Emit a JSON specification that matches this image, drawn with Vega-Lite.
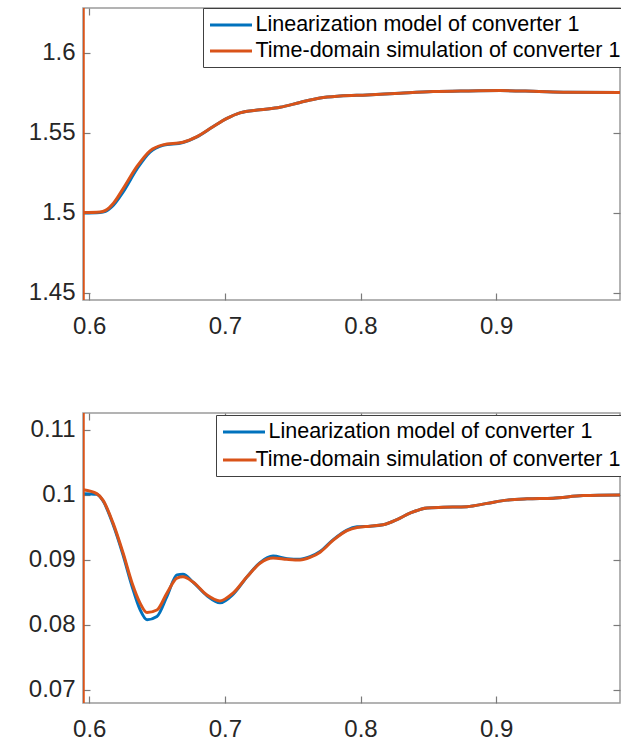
{
  "$schema": "https://vega.github.io/schema/vega-lite/v6.json",
  "padding": {"left": 27, "top": 6, "right": 0, "bottom": 0},
  "background": "white",
  "spacing": 72,
  "resolve": {"scale": {"color": "independent"}, "legend": {"color": "independent"}},
  "config": {
    "font": "Liberation Sans",
    "view": {"stroke": "#9a9a9a", "strokeWidth": 1.5},
    "axis": {"labelFont": "Liberation Sans", "labelFontSize": 24, "labelColor": "#262626", "grid": false, "title": null, "domain": false, "tickColor": "#7a7a7a", "tickWidth": 1.2, "tickSize": -7, "labelPadding": 12},
    "legend": {"labelLimit": 0}
  },
  "vconcat": [
    {
      "width": 537,
      "height": 292,
      "layer": [
        {
          "data": {"values": [
            {"series": "Linearization model of converter 1", "t": 0.5954, "v": 1.5000},
            {"series": "Linearization model of converter 1", "t": 0.6079, "v": 1.5003},
            {"series": "Linearization model of converter 1", "t": 0.6120, "v": 1.5010},
            {"series": "Linearization model of converter 1", "t": 0.6180, "v": 1.5050},
            {"series": "Linearization model of converter 1", "t": 0.6249, "v": 1.5130},
            {"series": "Linearization model of converter 1", "t": 0.6352, "v": 1.5275},
            {"series": "Linearization model of converter 1", "t": 0.6448, "v": 1.5380},
            {"series": "Linearization model of converter 1", "t": 0.6543, "v": 1.5422},
            {"series": "Linearization model of converter 1", "t": 0.6691, "v": 1.5440},
            {"series": "Linearization model of converter 1", "t": 0.6794, "v": 1.5475},
            {"series": "Linearization model of converter 1", "t": 0.6912, "v": 1.5538},
            {"series": "Linearization model of converter 1", "t": 0.7015, "v": 1.5590},
            {"series": "Linearization model of converter 1", "t": 0.7111, "v": 1.5625},
            {"series": "Linearization model of converter 1", "t": 0.7259, "v": 1.5644},
            {"series": "Linearization model of converter 1", "t": 0.7406, "v": 1.5660},
            {"series": "Linearization model of converter 1", "t": 0.7554, "v": 1.5690},
            {"series": "Linearization model of converter 1", "t": 0.7702, "v": 1.5718},
            {"series": "Linearization model of converter 1", "t": 0.7849, "v": 1.5730},
            {"series": "Linearization model of converter 1", "t": 0.8048, "v": 1.5737},
            {"series": "Linearization model of converter 1", "t": 0.8291, "v": 1.5748},
            {"series": "Linearization model of converter 1", "t": 0.8535, "v": 1.5758},
            {"series": "Linearization model of converter 1", "t": 0.8785, "v": 1.5762},
            {"series": "Linearization model of converter 1", "t": 0.9029, "v": 1.5764},
            {"series": "Linearization model of converter 1", "t": 0.9272, "v": 1.5760},
            {"series": "Linearization model of converter 1", "t": 0.9523, "v": 1.5754},
            {"series": "Linearization model of converter 1", "t": 0.9913, "v": 1.5752},
            {"series": "Time-domain simulation of converter 1", "t": 0.5954, "v": 1.5002},
            {"series": "Time-domain simulation of converter 1", "t": 0.6079, "v": 1.5006},
            {"series": "Time-domain simulation of converter 1", "t": 0.6120, "v": 1.5016},
            {"series": "Time-domain simulation of converter 1", "t": 0.6180, "v": 1.5062},
            {"series": "Time-domain simulation of converter 1", "t": 0.6249, "v": 1.5150},
            {"series": "Time-domain simulation of converter 1", "t": 0.6352, "v": 1.5290},
            {"series": "Time-domain simulation of converter 1", "t": 0.6448, "v": 1.5388},
            {"series": "Time-domain simulation of converter 1", "t": 0.6543, "v": 1.5425},
            {"series": "Time-domain simulation of converter 1", "t": 0.6691, "v": 1.5441},
            {"series": "Time-domain simulation of converter 1", "t": 0.6794, "v": 1.5476},
            {"series": "Time-domain simulation of converter 1", "t": 0.6912, "v": 1.5538},
            {"series": "Time-domain simulation of converter 1", "t": 0.7015, "v": 1.5590},
            {"series": "Time-domain simulation of converter 1", "t": 0.7111, "v": 1.5625},
            {"series": "Time-domain simulation of converter 1", "t": 0.7259, "v": 1.5644},
            {"series": "Time-domain simulation of converter 1", "t": 0.7406, "v": 1.5660},
            {"series": "Time-domain simulation of converter 1", "t": 0.7554, "v": 1.5690},
            {"series": "Time-domain simulation of converter 1", "t": 0.7702, "v": 1.5718},
            {"series": "Time-domain simulation of converter 1", "t": 0.7849, "v": 1.5730},
            {"series": "Time-domain simulation of converter 1", "t": 0.8048, "v": 1.5737},
            {"series": "Time-domain simulation of converter 1", "t": 0.8291, "v": 1.5748},
            {"series": "Time-domain simulation of converter 1", "t": 0.8535, "v": 1.5758},
            {"series": "Time-domain simulation of converter 1", "t": 0.8785, "v": 1.5762},
            {"series": "Time-domain simulation of converter 1", "t": 0.9029, "v": 1.5764},
            {"series": "Time-domain simulation of converter 1", "t": 0.9272, "v": 1.5760},
            {"series": "Time-domain simulation of converter 1", "t": 0.9523, "v": 1.5754},
            {"series": "Time-domain simulation of converter 1", "t": 0.9913, "v": 1.5752}
          ]},
          "mark": {"type": "line", "interpolate": "monotone", "strokeWidth": 3, "clip": true},
          "encoding": {
            "x": {"field": "t", "type": "quantitative", "scale": {"domain": [0.5954, 0.9913], "nice": false, "zero": false}, "axis": {"orient": "bottom", "values": [0.6, 0.7, 0.8, 0.9], "format": ".1f", "labelPadding": 21}},
            "y": {"field": "v", "type": "quantitative", "scale": {"domain": [1.4456, 1.628], "nice": false, "zero": false}, "axis": {"orient": "left", "values": [1.45, 1.5, 1.55, 1.6], "format": "~g", "labelPadding": 15}},
            "color": {"field": "series", "type": "nominal", "scale": {"domain": ["Linearization model of converter 1", "Time-domain simulation of converter 1"], "range": ["#0072BD", "#D95319"]},
              "legend": {"title": null, "orient": "none", "legendX": 120, "legendY": 0, "symbolType": "M-2,0H2", "symbolSize": 441, "symbolStrokeWidth": 3, "symbolOffset": 11, "labelFontSize": 21.5, "labelColor": "#000000", "labelFont": "Liberation Sans", "strokeColor": "#404040", "fillColor": "white", "padding": 5, "rowPadding": 3, "labelOffset": 12.5, "cornerRadius": 0, "labelLimit": 1000}}
          }
        },
        {
          "data": {"values": [{"t": 0.5954, "v": 1.40, "v2": 1.70}]},
          "mark": {"type": "rule", "color": "#D95319", "strokeWidth": 3.5, "clip": true},
          "encoding": {
            "x": {"field": "t", "type": "quantitative", "axis": {"orient": "top", "values": [0.6, 0.7, 0.8, 0.9], "labels": false}},
            "y": {"field": "v", "type": "quantitative", "axis": {"orient": "right", "values": [1.45, 1.5, 1.55, 1.6], "labels": false}},
            "y2": {"field": "v2"}
          }
        }
      ],
      "resolve": {"axis": {"x": "independent", "y": "independent"}}
    },
    {
      "width": 537,
      "height": 290,
      "layer": [
        {
          "data": {"values": [
            {"series": "Linearization model of converter 1", "t": 0.5956, "v": 0.1002},
            {"series": "Linearization model of converter 1", "t": 0.6055, "v": 0.1001},
            {"series": "Linearization model of converter 1", "t": 0.6101, "v": 0.0991},
            {"series": "Linearization model of converter 1", "t": 0.6175, "v": 0.0955},
            {"series": "Linearization model of converter 1", "t": 0.6249, "v": 0.0908},
            {"series": "Linearization model of converter 1", "t": 0.6315, "v": 0.0860},
            {"series": "Linearization model of converter 1", "t": 0.6374, "v": 0.0824},
            {"series": "Linearization model of converter 1", "t": 0.6426, "v": 0.0808},
            {"series": "Linearization model of converter 1", "t": 0.6499, "v": 0.0813},
            {"series": "Linearization model of converter 1", "t": 0.6573, "v": 0.0844},
            {"series": "Linearization model of converter 1", "t": 0.6647, "v": 0.0877},
            {"series": "Linearization model of converter 1", "t": 0.6691, "v": 0.0878},
            {"series": "Linearization model of converter 1", "t": 0.6765, "v": 0.0866},
            {"series": "Linearization model of converter 1", "t": 0.6868, "v": 0.0845},
            {"series": "Linearization model of converter 1", "t": 0.6964, "v": 0.0834},
            {"series": "Linearization model of converter 1", "t": 0.7060, "v": 0.0847},
            {"series": "Linearization model of converter 1", "t": 0.7163, "v": 0.0874},
            {"series": "Linearization model of converter 1", "t": 0.7259, "v": 0.0896},
            {"series": "Linearization model of converter 1", "t": 0.7355, "v": 0.0906},
            {"series": "Linearization model of converter 1", "t": 0.7459, "v": 0.0902},
            {"series": "Linearization model of converter 1", "t": 0.7554, "v": 0.0901},
            {"series": "Linearization model of converter 1", "t": 0.7628, "v": 0.0905},
            {"series": "Linearization model of converter 1", "t": 0.7702, "v": 0.0913},
            {"series": "Linearization model of converter 1", "t": 0.7797, "v": 0.0931},
            {"series": "Linearization model of converter 1", "t": 0.7900, "v": 0.0946},
            {"series": "Linearization model of converter 1", "t": 0.7974, "v": 0.0951},
            {"series": "Linearization model of converter 1", "t": 0.8070, "v": 0.0952},
            {"series": "Linearization model of converter 1", "t": 0.8166, "v": 0.0954},
            {"series": "Linearization model of converter 1", "t": 0.8269, "v": 0.0962},
            {"series": "Linearization model of converter 1", "t": 0.8365, "v": 0.0972},
            {"series": "Linearization model of converter 1", "t": 0.8490, "v": 0.0980},
            {"series": "Linearization model of converter 1", "t": 0.8608, "v": 0.0981},
            {"series": "Linearization model of converter 1", "t": 0.8785, "v": 0.0982},
            {"series": "Linearization model of converter 1", "t": 0.8933, "v": 0.0987},
            {"series": "Linearization model of converter 1", "t": 0.9080, "v": 0.0992},
            {"series": "Linearization model of converter 1", "t": 0.9228, "v": 0.0994},
            {"series": "Linearization model of converter 1", "t": 0.9420, "v": 0.0995},
            {"series": "Linearization model of converter 1", "t": 0.9641, "v": 0.0999},
            {"series": "Linearization model of converter 1", "t": 0.9913, "v": 0.1000},
            {"series": "Time-domain simulation of converter 1", "t": 0.5956, "v": 0.1008},
            {"series": "Time-domain simulation of converter 1", "t": 0.6055, "v": 0.1002},
            {"series": "Time-domain simulation of converter 1", "t": 0.6101, "v": 0.0992},
            {"series": "Time-domain simulation of converter 1", "t": 0.6175, "v": 0.0957},
            {"series": "Time-domain simulation of converter 1", "t": 0.6249, "v": 0.0911},
            {"series": "Time-domain simulation of converter 1", "t": 0.6315, "v": 0.0865},
            {"series": "Time-domain simulation of converter 1", "t": 0.6374, "v": 0.0834},
            {"series": "Time-domain simulation of converter 1", "t": 0.6426, "v": 0.0819},
            {"series": "Time-domain simulation of converter 1", "t": 0.6499, "v": 0.0823},
            {"series": "Time-domain simulation of converter 1", "t": 0.6573, "v": 0.0849},
            {"series": "Time-domain simulation of converter 1", "t": 0.6647, "v": 0.0872},
            {"series": "Time-domain simulation of converter 1", "t": 0.6691, "v": 0.0874},
            {"series": "Time-domain simulation of converter 1", "t": 0.6765, "v": 0.0866},
            {"series": "Time-domain simulation of converter 1", "t": 0.6868, "v": 0.0846},
            {"series": "Time-domain simulation of converter 1", "t": 0.6964, "v": 0.0837},
            {"series": "Time-domain simulation of converter 1", "t": 0.7060, "v": 0.0849},
            {"series": "Time-domain simulation of converter 1", "t": 0.7163, "v": 0.0874},
            {"series": "Time-domain simulation of converter 1", "t": 0.7259, "v": 0.0895},
            {"series": "Time-domain simulation of converter 1", "t": 0.7355, "v": 0.0903},
            {"series": "Time-domain simulation of converter 1", "t": 0.7459, "v": 0.0901},
            {"series": "Time-domain simulation of converter 1", "t": 0.7554, "v": 0.0900},
            {"series": "Time-domain simulation of converter 1", "t": 0.7628, "v": 0.0904},
            {"series": "Time-domain simulation of converter 1", "t": 0.7702, "v": 0.0912},
            {"series": "Time-domain simulation of converter 1", "t": 0.7797, "v": 0.0930},
            {"series": "Time-domain simulation of converter 1", "t": 0.7900, "v": 0.0945},
            {"series": "Time-domain simulation of converter 1", "t": 0.7974, "v": 0.0950},
            {"series": "Time-domain simulation of converter 1", "t": 0.8070, "v": 0.0952},
            {"series": "Time-domain simulation of converter 1", "t": 0.8166, "v": 0.0954},
            {"series": "Time-domain simulation of converter 1", "t": 0.8269, "v": 0.0962},
            {"series": "Time-domain simulation of converter 1", "t": 0.8365, "v": 0.0972},
            {"series": "Time-domain simulation of converter 1", "t": 0.8490, "v": 0.0980},
            {"series": "Time-domain simulation of converter 1", "t": 0.8608, "v": 0.0981},
            {"series": "Time-domain simulation of converter 1", "t": 0.8785, "v": 0.0982},
            {"series": "Time-domain simulation of converter 1", "t": 0.8933, "v": 0.0987},
            {"series": "Time-domain simulation of converter 1", "t": 0.9080, "v": 0.0992},
            {"series": "Time-domain simulation of converter 1", "t": 0.9228, "v": 0.0994},
            {"series": "Time-domain simulation of converter 1", "t": 0.9420, "v": 0.0995},
            {"series": "Time-domain simulation of converter 1", "t": 0.9641, "v": 0.0999},
            {"series": "Time-domain simulation of converter 1", "t": 0.9913, "v": 0.1000}
          ]},
          "mark": {"type": "line", "interpolate": "monotone", "strokeWidth": 3, "clip": true},
          "encoding": {
            "x": {"field": "t", "type": "quantitative", "scale": {"domain": [0.5954, 0.9913], "nice": false, "zero": false}, "axis": {"orient": "bottom", "values": [0.6, 0.7, 0.8, 0.9], "format": ".1f", "labelPadding": 21}},
            "y": {"field": "v", "type": "quantitative", "scale": {"domain": [0.068, 0.1126], "nice": false, "zero": false}, "axis": {"orient": "left", "values": [0.07, 0.08, 0.09, 0.1, 0.11], "format": "~g", "labelPadding": 15}},
            "color": {"field": "series", "type": "nominal", "scale": {"domain": ["Linearization model of converter 1", "Time-domain simulation of converter 1"], "range": ["#0072BD", "#D95319"]},
              "legend": {"title": null, "orient": "none", "legendX": 133, "legendY": 2, "symbolType": "M-2,0H2", "symbolSize": 441, "symbolStrokeWidth": 3, "symbolOffset": 11, "labelFontSize": 21.5, "labelColor": "#000000", "labelFont": "Liberation Sans", "strokeColor": "#404040", "fillColor": "white", "padding": 5, "rowPadding": 5, "labelOffset": 12.5, "cornerRadius": 0, "labelLimit": 1000,
                "encode": {
                  "symbols": {"update": {"shape": {"signal": "datum.index === 1 ? 'M-2,0H1.2' : 'M-2,0H2'"}}},
                  "labels": {"update": {"dx": {"signal": "datum.index === 1 ? -13 : 0"}}}
                }}}
          }
        },
        {
          "data": {"values": [{"t": 0.5954, "v": 0.05, "v2": 0.13}]},
          "mark": {"type": "rule", "color": "#D95319", "strokeWidth": 3.5, "clip": true},
          "encoding": {
            "x": {"field": "t", "type": "quantitative", "axis": {"orient": "top", "values": [0.6, 0.7, 0.8, 0.9], "labels": false}},
            "y": {"field": "v", "type": "quantitative", "axis": {"orient": "right", "values": [0.07, 0.08, 0.09, 0.1, 0.11], "labels": false}},
            "y2": {"field": "v2"}
          }
        }
      ],
      "resolve": {"axis": {"x": "independent", "y": "independent"}}
    }
  ]
}
